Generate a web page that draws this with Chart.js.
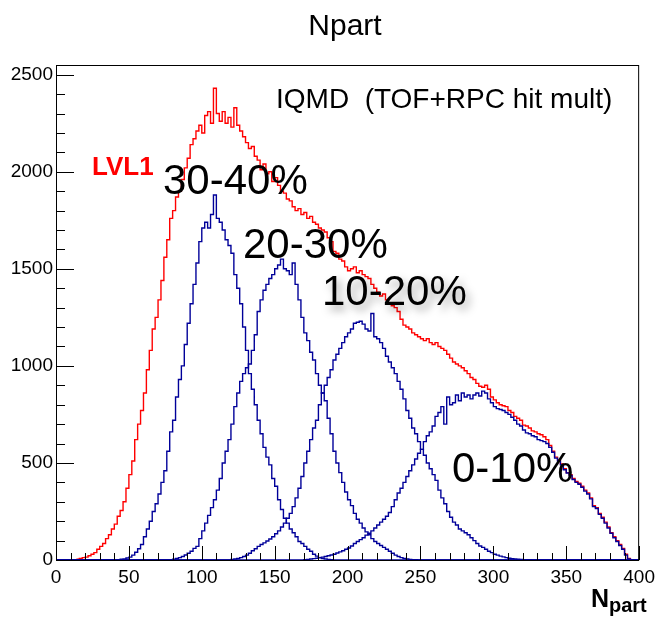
<!DOCTYPE html>
<html lang="en">
<head>
  <meta charset="UTF-8" />
  <title>Npart</title>
  <style>
    body { margin: 0; padding: 0; background: #fff; }
    #graf { display: block; }
  </style>
</head>
<body>
  <canvas id="graf" width="661" height="619"></canvas>

  <script src="https://cdn.jsdelivr.net/npm/chart.js"></script>
  <script>
    // histogram bins, 2 units wide; each series starts at its own first bin edge
    const binWidth = 2;

    const lvl1Start = 14;
    const lvl1 = [5, 4, 8, 12, 15, 22, 30, 38, 55, 70, 85, 110, 130, 160, 185, 225, 255, 300, 370, 440,
      510, 620, 700, 770, 860, 980, 1080, 1190, 1250, 1340, 1440, 1560, 1650, 1760, 1800, 1870, 1900, 1960, 2020, 2070,
      2140, 2170, 2210, 2240, 2200, 2290, 2310, 2250, 2430, 2300, 2260, 2310, 2250, 2280, 2230, 2330, 2240, 2210, 2180, 2150,
      2120, 2130, 2080, 2060, 2010, 2040, 1990, 2000, 1950, 1970, 1930, 1900, 1890, 1860, 1850, 1820, 1800, 1810, 1780, 1790,
      1760, 1770, 1740, 1730, 1710, 1700, 1690, 1660, 1640, 1590, 1580, 1550, 1540, 1510, 1490, 1500, 1510, 1480, 1490, 1470,
      1460, 1450, 1420, 1400, 1380, 1360, 1370, 1340, 1320, 1310, 1300, 1280, 1240, 1210, 1200, 1190, 1170, 1160, 1150, 1140,
      1130, 1140, 1120, 1110, 1120, 1100, 1090, 1080, 1060, 1040, 1020, 1010, 1000, 990, 975, 960, 940, 930, 910, 895,
      890, 900, 880, 840, 825, 810, 800, 795, 790, 770, 760, 740, 730, 720, 695, 690, 680, 665, 660, 650,
      645, 635, 620, 590, 560, 530, 515, 495, 470, 450, 440, 420, 405, 395, 380, 360, 345, 320, 280, 270,
      240, 220, 195, 170, 140, 120, 100, 80, 60, 30, 8];

    const c3040Start = 44;
    const c3040 = [2, 4, 6, 10, 15, 25, 40, 58, 80, 120, 160, 200, 250, 290, 340, 400, 460, 560, 660, 720,
      840, 930, 1000, 1110, 1220, 1320, 1420, 1530, 1640, 1710, 1740, 1710, 1780, 1880, 1760, 1740, 1700, 1650, 1620, 1580,
      1470, 1400, 1320, 1200, 1080, 960, 880, 800, 720, 650, 580, 530, 490, 420, 380, 310, 260, 215, 190, 160,
      140, 120, 95, 85, 70, 55, 45, 30, 20, 12, 8, 5, 3, 2];

    const c2030Start = 80;
    const c2030 = [2, 4, 8, 12, 18, 26, 35, 45, 60, 70, 110, 150, 190, 230, 270, 310, 360, 420, 500, 560,
      620, 700, 790, 860, 920, 960, 990, 1010, 1080, 1160, 1280, 1340, 1390, 1420, 1450, 1470, 1500, 1520, 1550, 1500,
      1490, 1470, 1530, 1420, 1340, 1250, 1170, 1130, 1070, 1030, 960, 900, 860, 820, 730, 650, 560, 500, 450, 400,
      350, 310, 280, 240, 210, 190, 165, 145, 130, 110, 95, 85, 75, 65, 55, 45, 35, 25, 18, 12,
      8, 5, 3, 2, 1];

    const c1020Start = 120;
    const c1020 = [2, 3, 5, 8, 12, 18, 25, 35, 48, 58, 70, 80, 88, 98, 108, 120, 135, 150, 170, 190,
      215, 240, 275, 320, 370, 430, 500, 560, 620, 680, 720, 800, 860, 900, 940, 980, 1030, 1060, 1090, 1120,
      1150, 1170, 1190, 1220, 1225, 1230, 1215, 1190, 1180, 1270, 1150, 1140, 1120, 1090, 1050, 1020, 990, 960, 920, 880,
      830, 770, 730, 680, 650, 610, 570, 540, 500, 470, 440, 410, 360, 320, 290, 250, 220, 195, 180, 160,
      150, 140, 130, 115, 100, 85, 72, 65, 55, 45, 38, 30, 25, 20, 16, 12, 9, 7, 5, 4,
      3, 2, 2, 1];

    const c010Start = 170;
    const c010 = [1, 2, 3, 5, 7, 9, 12, 15, 18, 22, 26, 30, 36, 42, 48, 55, 62, 72, 85, 95,
      105, 115, 128, 138, 150, 165, 180, 195, 210, 225, 245, 275, 310, 345, 370, 400, 430, 460, 490, 520,
      550, 570, 610, 640, 660, 690, 740, 760, 790, 700, 840, 800, 810, 850, 820, 860, 840, 850, 830, 850,
      860, 845, 870, 860, 830, 810, 790, 780, 775, 770, 760, 750, 735, 720, 700, 690, 670, 655, 650, 640,
      635, 620, 615, 610, 600, 580, 555, 525, 510, 490, 465, 448, 435, 415, 400, 390, 375, 355, 340, 315,
      275, 265, 235, 215, 190, 165, 138, 115, 95, 75, 55, 25, 6];

    const xTicks = [0, 50, 100, 150, 200, 250, 300, 350, 400];
    const yTicks = [0, 500, 1000, 1500, 2000, 2500];

    const fonte = '"Liberation Sans", Arial, Helvetica, sans-serif';

    // step points for a histogram, with a zero line over the whole axis
    function pontos(inicio, valores) {
      const p = [{ x: 0, y: 0 }, { x: inicio, y: 0 }];
      valores.forEach((v, i) => p.push({ x: inicio + i * binWidth, y: v }));
      p.push({ x: inicio + valores.length * binWidth, y: 0 });
      p.push({ x: 400, y: 0 });
      return p;
    }

    function serie(label, inicio, valores, cor, ordem) {
      return {
        label: label,
        data: pontos(inicio, valores),
        borderColor: cor,
        borderWidth: 1.4,
        stepped: 'after',
        pointRadius: 0,
        tension: 0,
        fill: false,
        order: ordem
      };
    }

    const moldura = {
      id: 'moldura',
      afterDatasetsDraw(chart) {
        const { ctx, chartArea: a, scales: { x, y } } = chart;
        ctx.save();
        ctx.strokeStyle = '#000';
        ctx.lineWidth = 1;
        ctx.strokeRect(a.left + 0.5, a.top + 0.5, a.right - a.left - 1, a.bottom - a.top);
        ctx.beginPath();
        for (let v = 0; v <= 400; v += 10) {
          const px = Math.round(x.getPixelForValue(v)) + 0.5;
          const len = v % 50 === 0 ? 14 : 7;
          ctx.moveTo(px, a.bottom);
          ctx.lineTo(px, a.bottom - len);
        }
        for (let v = 0; v <= 2500; v += 100) {
          const py = Math.round(y.getPixelForValue(v)) + 0.5;
          const len = v % 500 === 0 ? 18 : 9;
          ctx.moveTo(a.left, py);
          ctx.lineTo(a.left + len, py);
        }
        ctx.stroke();
        ctx.restore();
      },
      afterDraw(chart) {
        const ctx = chart.ctx;
        ctx.save();
        ctx.fillStyle = '#000';
        ctx.textBaseline = 'alphabetic';
        ctx.textAlign = 'center';
        ctx.font = '30px ' + fonte;
        ctx.fillText('Npart', 345, 35);

        ctx.textAlign = 'left';
        ctx.font = '28px ' + fonte;
        ctx.fillText('IQMD  (TOF+RPC hit mult)', 276, 108);

        ctx.fillStyle = '#ff0000';
        ctx.font = 'bold 26px ' + fonte;
        ctx.fillText('LVL1', 92, 175);

        ctx.fillStyle = '#000';
        ctx.font = '42px ' + fonte;
        ctx.fillText('30-40%', 163, 194);
        ctx.fillText('20-30%', 243, 258);
        ctx.fillText('0-10%', 452, 482);
        ctx.save();
        ctx.shadowColor = 'rgba(0,0,0,0.35)';
        ctx.shadowBlur = 8;
        ctx.shadowOffsetX = 4;
        ctx.shadowOffsetY = 5;
        ctx.fillText('10-20%', 322, 305);
        ctx.restore();

        ctx.font = 'bold 25px ' + fonte;
        ctx.fillText('N', 591, 607);
        ctx.font = 'bold 20px ' + fonte;
        ctx.fillText('part', 609, 612);
        ctx.restore();
      }
    };

    const azul = '#000099';

    new Chart(document.getElementById('graf'), {
      type: 'line',
      data: {
        datasets: [
          serie('0-10%', c010Start, c010, azul, 0),
          serie('10-20%', c1020Start, c1020, azul, 0),
          serie('20-30%', c2030Start, c2030, azul, 0),
          serie('30-40%', c3040Start, c3040, azul, 0),
          serie('LVL1', lvl1Start, lvl1, '#ff0000', 1)
        ]
      },
      options: {
        responsive: false,
        animation: false,
        layout: { padding: { left: 0, right: 19, top: 65, bottom: 0 } },
        plugins: { legend: { display: false }, tooltip: { enabled: false } },
        scales: {
          x: {
            type: 'linear',
            min: 0,
            max: 400,
            grid: { display: false, drawTicks: false },
            border: { display: false },
            afterBuildTicks: s => { s.ticks = xTicks.map(v => ({ value: v })); },
            afterFit: s => { s.height = 59; },
            ticks: { color: '#000', font: { family: fonte, size: 19 }, padding: 6, maxRotation: 0, autoSkip: false,
              callback: v => String(v) }
          },
          y: {
            min: 0,
            max: 2550,
            grid: { display: false, drawTicks: false },
            border: { display: false },
            afterBuildTicks: s => { s.ticks = yTicks.map(v => ({ value: v })); },
            afterFit: s => { s.width = 56; },
            ticks: { color: '#000', font: { family: fonte, size: 19 }, padding: 3,
              callback: v => String(v) }
          }
        }
      },
      plugins: [moldura]
    });
  </script>
</body>
</html>
